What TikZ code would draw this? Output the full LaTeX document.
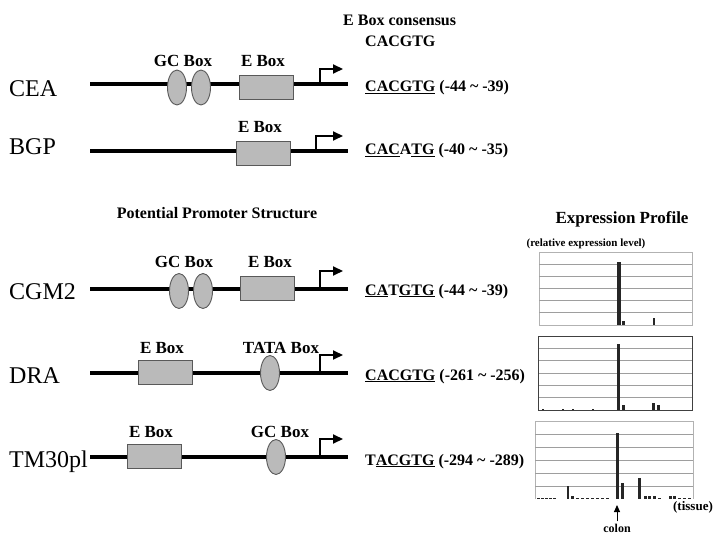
\documentclass[tikz,border=0pt]{standalone}
\usepackage{fontspec}
\setmainfont{Liberation Serif}
\usetikzlibrary{shapes.geometric,arrows.meta}
\begin{document}
\begin{tikzpicture}[x=1pt,y=-1pt,
  dna/.style={line width=4.5pt,black},
  tss/.style={line width=2pt,-{Triangle[length=10pt,width=9pt]}},
  ebox/.style={draw=black!65,fill=black!27,line width=0.9pt,minimum width=54pt,minimum height=24pt,inner sep=0pt},
  gcbox/.style={ellipse,draw=black!65,fill=black!27,line width=0.9pt,minimum width=19pt,minimum height=35pt,inner sep=0pt},
  gene/.style={font=\fontsize{24}{26}\selectfont,anchor=base west,inner sep=0pt},
  lab/.style={font=\bfseries\fontsize{17}{19}\selectfont,anchor=base,inner sep=0pt},
  seq/.style={font=\bfseries\fontsize{16}{18}\selectfont,anchor=base west,inner sep=0pt},
  head/.style={font=\bfseries\fontsize{16}{18}\selectfont,anchor=base,inner sep=0pt},
  frame/.style={line width=0.9pt},
  gridl/.style={black!38,line width=0.7pt},
  bar/.style={fill=black!85}
]
\useasboundingbox (0,0) rectangle (714,534);

% ---------- headings ----------
\node[seq] (hcons) at (343,26) {E Box consensus};
\node[seq] (hcons2) at (365,47) {CACGTG};
\node[head] (hpps) at (217,219) {Potential Promoter Structure};
\node[head,font=\bfseries\fontsize{17}{19}\selectfont] (hexp) at (622,224) {Expression Profile};
\node[head,font=\bfseries\fontsize{11}{13}\selectfont] (hrel) at (586,247) {(relative expression level)};

% ---------- CEA ----------
\node[gene] (gCEA) at (9,97) {CEA};
\coordinate (cea0) at (90,84); \coordinate (cea1) at (348,84);
\draw[dna] (cea0) -- (cea1);
\coordinate (ceaT) at (320,84); \coordinate (ceaH) at (343,69);
\draw[tss] (ceaT) |- (ceaH);
\node[gcbox] (ceaGC1) at (177,87.5) {};
\node[gcbox] (ceaGC2) at (201,87.5) {};
\node[ebox] (ceaE) at (266,87) {};
\node[lab] (ceaGCl) at (183,67) {GC Box};
\node[lab] (ceaEl) at (263,67) {E Box};
\node[seq] (ceaS) at (365,92) {\underline{CACGTG} (-44 \textasciitilde\ -39)};

% ---------- BGP ----------
\node[gene] (gBGP) at (9,155) {BGP};
\coordinate (bgp0) at (90,151); \coordinate (bgp1) at (348,151);
\draw[dna] (bgp0) -- (bgp1);
\coordinate (bgpT) at (316,151); \coordinate (bgpH) at (343,136);
\draw[tss] (bgpT) |- (bgpH);
\node[ebox] (bgpE) at (263,153) {};
\node[lab] (bgpEl) at (260,133) {E Box};
\node[seq] (bgpS) at (365,155) {\underline{CAC}A\underline{TG} (-40 \textasciitilde\ -35)};

% ---------- CGM2 ----------
\node[gene] (gCGM) at (9,299) {CGM2};
\coordinate (cgm0) at (90,289); \coordinate (cgm1) at (348,289);
\draw[dna] (cgm0) -- (cgm1);
\coordinate (cgmT) at (320,289); \coordinate (cgmH) at (343,271);
\draw[tss] (cgmT) |- (cgmH);
\node[gcbox] (cgmGC1) at (179,291) {};
\node[gcbox] (cgmGC2) at (203,291) {};
\node[ebox] (cgmE) at (267,288) {};
\node[lab] (cgmGCl) at (184,268) {GC Box};
\node[lab] (cgmEl) at (270,268) {E Box};
\node[seq] (cgmS) at (365,295) {\underline{CA}T\underline{GTG} (-44 \textasciitilde\ -39)};

% ---------- DRA ----------
\node[gene] (gDRA) at (9,383) {DRA};
\coordinate (dra0) at (90,373); \coordinate (dra1) at (348,373);
\draw[dna] (dra0) -- (dra1);
\coordinate (draT) at (320,373); \coordinate (draH) at (343,355);
\draw[tss] (draT) |- (draH);
\node[ebox] (draE) at (165,372.5) {};
\node[gcbox] (draTATA) at (270,373) {};
\node[lab] (draEl) at (162,353) {E Box};
\node[lab] (draTl) at (281,353) {TATA Box};
\node[seq] (draS) at (365,380) {\underline{CACGTG} (-261 \textasciitilde\ -256)};

% ---------- TM30pl ----------
\node[gene] (gTM) at (9,467) {TM30pl};
\coordinate (tm0) at (90,457); \coordinate (tm1) at (348,457);
\draw[dna] (tm0) -- (tm1);
\coordinate (tmT) at (320,457); \coordinate (tmH) at (343,439);
\draw[tss] (tmT) |- (tmH);
\node[ebox] (tmE) at (154,456) {};
\node[gcbox] (tmGC) at (276,457) {};
\node[lab] (tmEl) at (151,437) {E Box};
\node[lab] (tmGCl) at (280,437) {GC Box};
\node[seq] (tmS) at (365,465) {T\underline{ACGTG} (-294 \textasciitilde\ -289)};

% ---------- chart 1 (CGM2) ----------
\draw[frame,black!30] (539,252) rectangle (692,325);
\foreach \yy in {264.2,276.3,288.5,300.7,312.8} \draw[gridl] (539,\yy) -- (692,\yy);
\fill[bar] (617.3,325) rectangle (620.8,262);
\fill[bar] (622,325) rectangle (624.5,321);
\fill[bar] (653,325) rectangle (655,318);

% ---------- chart 2 (DRA) ----------
\foreach \yy in {348.3,360.7,373,385.3,397.7} \draw[gridl] (538,\yy) -- (692,\yy);
\draw[frame,black!75] (538,336) rectangle (692,410);
\fill[bar] (616.5,410) rectangle (620,344);
\fill[bar] (622,410) rectangle (624.5,405);
\fill[bar] (652,410) rectangle (654.5,403);
\fill[bar] (657,410) rectangle (659.5,405);
\foreach \xx in {542,562,572,592} \fill[bar] (\xx,410) rectangle ++(2,-1.5);

% ---------- chart 3 (TM30pl) ----------
\draw[frame,black!30] (535,499) -- (535,421) -- (693,421) -- (693,499);
\foreach \yy in {434,447,460,473,486} \draw[gridl] (535,\yy) -- (693,\yy);
\fill[bar] (615.5,499) rectangle (619,433);
\fill[bar] (620.5,499) rectangle (624,483);
\fill[bar] (566.5,499) rectangle (569,486);
\fill[bar] (638,499) rectangle (641,478);
\foreach \xx in {537,541,545,549,553,576,581,586,591,596,601,606,658,678,683,688}
  \fill[bar] (\xx,499) rectangle ++(2.5,-1.5);
\foreach \xx in {571,644,648,653,669,673}
  \fill[bar] (\xx,499) rectangle ++(2.5,-3);

\node[font=\bfseries\fontsize{13}{15}\selectfont,anchor=base,inner sep=0pt] (tissue) at (693,510) {(tissue)};
\node[font=\bfseries\fontsize{12}{14}\selectfont,anchor=base,inner sep=0pt] (colon) at (617,532) {colon};
\coordinate (colonTip) at (617,505);
\draw[line width=1pt,-{Triangle[length=7pt,width=6pt]}] (colon.north) ++(0,-2) -- (colonTip);
\end{tikzpicture}
\end{document}
